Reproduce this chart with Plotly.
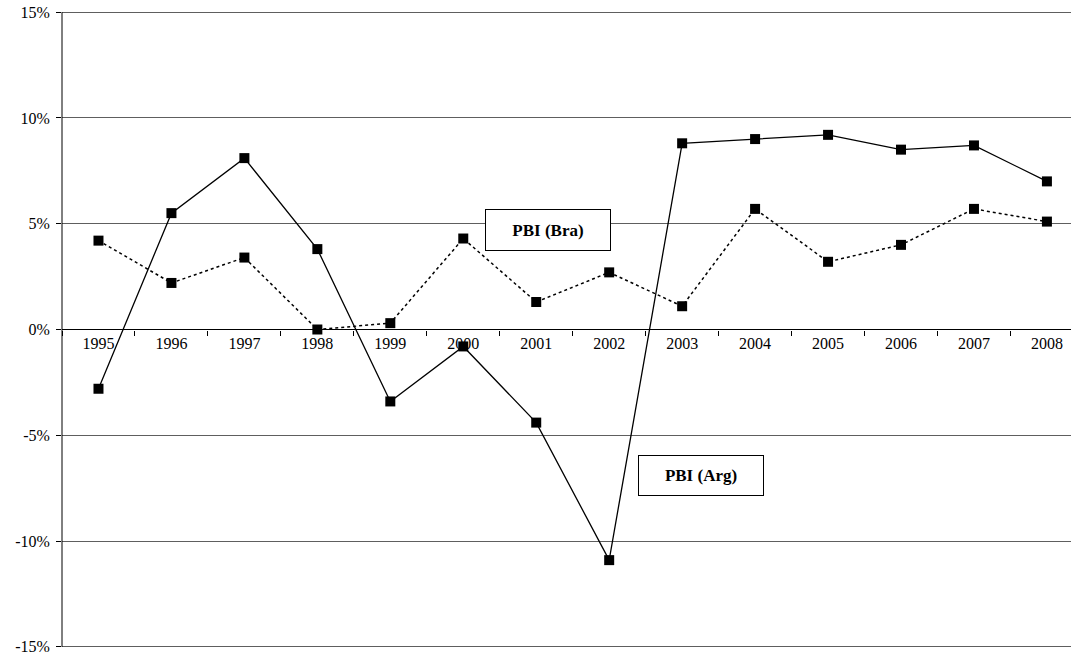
import plotly.graph_objects as go

years = ["1995", "1996", "1997", "1998", "1999", "2000", "2001",
         "2002", "2003", "2004", "2005", "2006", "2007", "2008"]
pbi_arg = [-2.8, 5.5, 8.1, 3.8, -3.4, -0.8, -4.4, -10.9, 8.8, 9.0, 9.2, 8.5, 8.7, 7.0]
pbi_bra = [4.2, 2.2, 3.4, 0.0, 0.3, 4.3, 1.3, 2.7, 1.1, 5.7, 3.2, 4.0, 5.7, 5.1]
y_ticks = [-15, -10, -5, 0, 5, 10, 15]

FONT = "Liberation Serif, Times New Roman, serif"

fig = go.Figure()
fig.add_trace(go.Scatter(
    x=years, y=pbi_arg, mode="lines+markers", name="PBI (Arg)",
    line=dict(color="black", width=1.3),
    marker=dict(symbol="square", size=10, color="black"),
    cliponaxis=False,
))
fig.add_trace(go.Scatter(
    x=years, y=pbi_bra, mode="lines+markers", name="PBI (Bra)",
    line=dict(color="black", width=1.5, dash="dot"),
    marker=dict(symbol="square", size=10, color="black"),
    cliponaxis=False,
))

fig.update_layout(
    width=1071, height=653,
    margin=dict(l=62, r=0, t=10, b=4, autoexpand=False),
    paper_bgcolor="white", plot_bgcolor="white",
    showlegend=False,
    font=dict(family=FONT, size=16, color="black"),
    xaxis=dict(
        type="category", categoryorder="array", categoryarray=years,
        range=[-0.5, 13.33], automargin=False,
        tickson="boundaries", ticks="outside", ticklen=5, tickcolor="black",
        showgrid=False, showline=False,
        anchor="free", position=0.5,
        tickfont=dict(family=FONT, size=16, color="black"),
        ticklabelstandoff=2,
    ),
    yaxis=dict(
        range=[-15.1, 15.1], tickvals=y_ticks, automargin=False,
        ticktext=[f"{v}%" for v in y_ticks],
        showgrid=True, gridcolor="#5e5e5e", gridwidth=1,
        zeroline=True, zerolinecolor="black", zerolinewidth=1,
        showline=False,
        ticks="outside", ticklen=5, tickcolor="black",
        tickfont=dict(family=FONT, size=16, color="black"),
        ticklabelstandoff=3,
        ticklabeloverflow="allow",
    ),
    shapes=[
        dict(type="line", xref="paper", yref="y", x0=0, x1=0, y0=-15, y1=15,
             line=dict(color="black", width=1), layer="above"),
    ],
    annotations=[
        dict(text="<b>PBI (Bra)</b>", xref="paper", yref="y",
             x=0.4814, y=4.7, showarrow=False,
             font=dict(family=FONT, size=17, color="black"),
             bgcolor="white", bordercolor="black", borderwidth=1,
             width=122, height=38),
        dict(text="<b>PBI (Arg)</b>", xref="paper", yref="y",
             x=0.633, y=-6.9, showarrow=False,
             font=dict(family=FONT, size=17, color="black"),
             bgcolor="white", bordercolor="black", borderwidth=1,
             width=122, height=37),
    ],
)

fig.write_html("out.html",
               config={"displayModeBar": False},
               post_script="document.body.style.margin='0';"
                           "document.body.style.overflow='hidden';")
